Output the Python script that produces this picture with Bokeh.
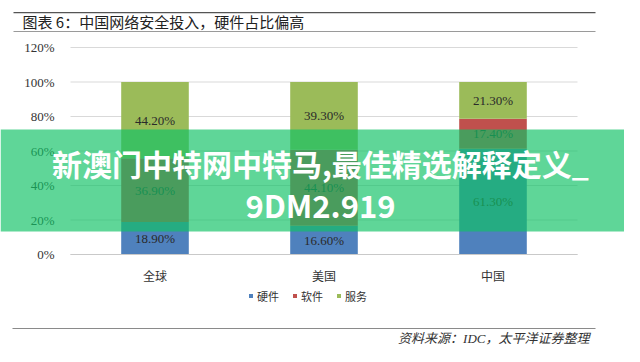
import numpy as np
from bokeh.plotting import figure
from bokeh.models import (ColumnDataSource, Range1d, FixedTicker, LabelSet,
                          BoxAnnotation, Label, Legend, LegendItem)
from bokeh.core.properties import value
from bokeh.embed import file_html
from bokeh.resources import INLINE

# ---- data ----
categories = ["全球", "美国", "中国"]
series = ["硬件", "软件", "服务"]
hardware = [18.9, 16.6, 61.3]
software = [36.9, 44.1, 17.4]
services = [44.2, 39.3, 21.3]
colors = ["#4f81bd", "#c0504d", "#9bbb59"]
y_ticks = [0, 20, 40, 60, 80, 100, 120]
y_tick_labels = ["0%", "20%", "40%", "60%", "80%", "100%", "120%"]
title_text = "图表 6：中国网络安全投入，硬件占比偏高"
source_text = "资料来源：IDC，太平洋证券整理"
banner_line1 = "新澳门中特网中特马,最佳精选解释定义_"
banner_line2 = "9DM2.919"

SERIF = "'Liberation Serif', 'Noto Sans CJK SC', serif"
CJK = "'Noto Sans CJK SC', sans-serif"

W, H = 624, 346
# layout geometry (pixels in the canvas): category area and 0% baseline
X0, PX_CAT = 70.0, 169.0
Y0, PX_PCT = 254.0, 1.725


def sx(x):
    return x


def sy(y):
    return H - y


ncat = len(categories)
xpos = [i + 0.5 for i in range(ncat)]
keys = ["hw", "sw", "sv"]
src = ColumnDataSource(dict(x=xpos, hw=hardware, sw=software, sv=services))

p = figure(x_range=Range1d(-X0 / PX_CAT, (W - X0) / PX_CAT),
           y_range=Range1d((Y0 - H) / PX_PCT, Y0 / PX_PCT),
           width=W, height=H, output_backend="svg", toolbar_location=None,
           min_border=0, min_border_left=0, min_border_right=0,
           min_border_top=0, min_border_bottom=0)
p.outline_line_color = None
p.background_fill_color = "white"
p.border_fill_color = "white"
p.xgrid.visible = False
p.ygrid.visible = False

# gridlines across the category area
p.segment(x0=[0] * len(y_ticks), x1=[ncat] * len(y_ticks), y0=y_ticks, y1=y_ticks,
          line_color="#d9d9d9", line_width=1)

renderers = p.vbar_stack(keys, x="x", width=0.4, color=colors, source=src, line_color=None)

# data labels
cum = np.zeros(ncat)
lab_x, lab_y, lab_t = [], [], []
for vals in (hardware, software, services):
    v = np.array(vals)
    mids = cum + v / 2
    cum = cum + v
    lab_x += xpos
    lab_y += list(mids)
    lab_t += ["%.2f%%" % a for a in vals]
lsrc = ColumnDataSource(dict(x=lab_x, y=lab_y, t=lab_t))
p.add_layout(LabelSet(x="x", y="y", text="t", source=lsrc, text_align="center",
                      text_baseline="middle", text_font=value(SERIF), text_font_size="13px",
                      text_color="#2a2a2a"))

# axes drawn at fixed locations inside the canvas
p.yaxis.fixed_location = 0
p.yaxis.ticker = FixedTicker(ticks=y_ticks)
p.yaxis.major_label_overrides = {t: l for t, l in zip(y_ticks, y_tick_labels)}
p.yaxis.axis_line_color = None
p.yaxis.major_tick_line_color = None
p.yaxis.minor_tick_line_color = None
p.yaxis.major_label_text_font = SERIF
p.yaxis.major_label_text_font_size = "13px"
p.yaxis.major_label_text_color = "#333333"
p.yaxis.major_label_standoff = 10

p.xaxis.fixed_location = 0
p.xaxis.bounds = (0, ncat)
p.xaxis.ticker = FixedTicker(ticks=xpos)
p.xaxis.major_label_overrides = {x: c for x, c in zip(xpos, categories)}
p.xaxis.axis_line_color = "#c9c9c9"
p.xaxis.major_tick_line_color = None
p.xaxis.minor_tick_line_color = None
p.xaxis.major_label_text_font = SERIF
p.xaxis.major_label_text_font_size = "12px"
p.xaxis.major_label_text_color = "#333333"
p.xaxis.major_label_standoff = 9

# legend
legend = Legend(items=[LegendItem(label=s, renderers=[r]) for s, r in zip(series, renderers)],
                orientation="horizontal", location=(sx(248), sy(303.5)),
                glyph_width=5, glyph_height=5, label_standoff=4, spacing=13, padding=0,
                margin=0, label_height=12, label_width=10,
                border_line_color=None, background_fill_alpha=0,
                label_text_font=CJK, label_text_font_size="11px",
                label_text_color="#333333")
p.add_layout(legend)


# title, rules, source
def rule(x0, x1, y0, y1, color):
    return BoxAnnotation(left=sx(x0), right=sx(x1), bottom=sy(y1), top=sy(y0),
                         left_units="screen", right_units="screen", bottom_units="screen",
                         top_units="screen", fill_color=color, fill_alpha=1, line_color=None)


p.add_layout(rule(13, 595, 11.5, 12.8, "#555555"))
p.add_layout(rule(13, 595, 30.5, 31.5, "#9a9a9a"))
p.add_layout(rule(12, 595, 327.5, 328.5, "#8a8a8a"))
p.add_layout(Label(x=sx(22), y=sy(21), x_units="screen", y_units="screen", text=title_text,
                   text_baseline="middle", text_font=CJK, text_font_size="15px",
                   text_color="#222222"))
p.add_layout(Label(x=sx(589), y=sy(337.5), x_units="screen", y_units="screen", text=source_text,
                   text_align="right", text_baseline="middle", text_font=SERIF,
                   text_font_style="italic", text_font_size="13px", text_color="#333333"))

# overlay banner
p.add_layout(BoxAnnotation(left=sx(0), right=sx(W), bottom=sy(231), top=sy(129),
                           left_units="screen", right_units="screen",
                           bottom_units="screen", top_units="screen",
                           fill_color="#10c265", fill_alpha=0.67, line_color=None, level="overlay"))
p.add_layout(Label(x=sx(320), y=sy(162), x_units="screen", y_units="screen", text=banner_line1,
                   text_align="center", text_baseline="middle",
                   text_font=CJK, text_font_style="bold", text_font_size="30px",
                   text_color="white", level="overlay"))
p.add_layout(Label(x=sx(320), y=sy(204), x_units="screen", y_units="screen", text=banner_line2,
                   text_align="center", text_baseline="middle",
                   text_font=CJK, text_font_style="bold", text_font_size="31px",
                   text_color="white", level="overlay"))

open("out.html", "w").write(file_html(p, INLINE))
